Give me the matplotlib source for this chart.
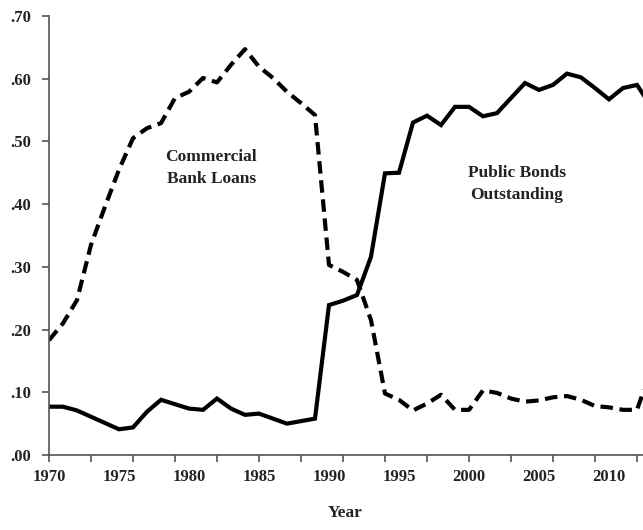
import matplotlib
matplotlib.use("Agg")
import matplotlib.pyplot as plt
from matplotlib.ticker import FuncFormatter

# Datos (proporción)
years = list(range(1970, 2014))
bonds = [0.077, 0.077, 0.071, 0.061, 0.051, 0.041, 0.044, 0.069, 0.088, 0.081,
         0.074, 0.072, 0.090, 0.074, 0.064, 0.066, 0.058, 0.050, 0.054, 0.058,
         0.239, 0.246, 0.255, 0.316, 0.449, 0.450, 0.530, 0.541, 0.526, 0.555,
         0.555, 0.540, 0.545, 0.569, 0.593, 0.582, 0.590, 0.608, 0.602, 0.585,
         0.567, 0.585, 0.590, 0.556]
loans = [0.183, 0.210, 0.247, 0.335, 0.396, 0.455, 0.505, 0.521, 0.529, 0.569,
         0.579, 0.601, 0.594, 0.622, 0.647, 0.619, 0.601, 0.579, 0.561, 0.542,
         0.303, 0.292, 0.279, 0.215, 0.098, 0.088, 0.071, 0.082, 0.096, 0.072,
         0.072, 0.103, 0.099, 0.090, 0.085, 0.087, 0.092, 0.094, 0.088, 0.078,
         0.076, 0.072, 0.072, 0.135]
tick_years = list(range(1970, 2013, 3))
label_years = list(range(1970, 2011, 5))

plt.rcParams['font.family'] = ['Liberation Serif', 'DejaVu Serif']

fig = plt.figure(figsize=(6.43, 5.30), dpi=100)
ax = fig.add_axes([0.0762, 0.1415, 1 - 0.0762, 0.970 - 0.1415])

ax.plot(years, bonds, color='black', lw=3, solid_joinstyle='miter')
ax.plot(years, loans, color='black', lw=3, dashes=(3, 1.6))

ax.set_xlim(1970, 2012.43)
ax.set_ylim(0, 0.70)

# Marcas cada 3 años, etiquetas cada 5
ax.xaxis.remove_overlapping_locs = False
ax.set_xticks(tick_years)
ax.set_xticklabels([])
ax.set_xticks(label_years, minor=True)
ax.set_xticklabels([str(y) for y in label_years], minor=True)
ax.tick_params(axis='x', which='major', direction='out', length=5, width=1.2,
               color='#555555')
ax.tick_params(axis='x', which='minor', length=0, pad=10)

ax.set_yticks([i / 10 for i in range(8)])
ax.yaxis.set_major_formatter(FuncFormatter(lambda v, p: f"{v:.2f}"[1:]))
ax.tick_params(axis='y', direction='out', length=5, width=1.2, color='#555555',
               pad=8)

for lab in ax.get_xticklabels(minor=True) + ax.get_yticklabels():
    lab.set_fontsize(12)
    lab.set_fontweight('bold')
    lab.set_color('#222222')

for s in ['top', 'right']:
    ax.spines[s].set_visible(False)
for s in ['left', 'bottom']:
    ax.spines[s].set_color('#555555')
    ax.spines[s].set_linewidth(1.2)

ax.text(1981.6, 0.458, "Commercial\nBank Loans", ha='center', va='center',
        fontsize=12.5, fontweight='bold', color='#222222', linespacing=1.5)
ax.text(2003.4, 0.432, "Public Bonds\nOutstanding", ha='center', va='center',
        fontsize=12.5, fontweight='bold', color='#222222', linespacing=1.5)

fig.text(345 / 643, 1 - 513 / 530, "Year", ha='center', va='center',
         fontsize=12.5, fontweight='bold', color='#222222')

fig.savefig("out.png", dpi=100)
